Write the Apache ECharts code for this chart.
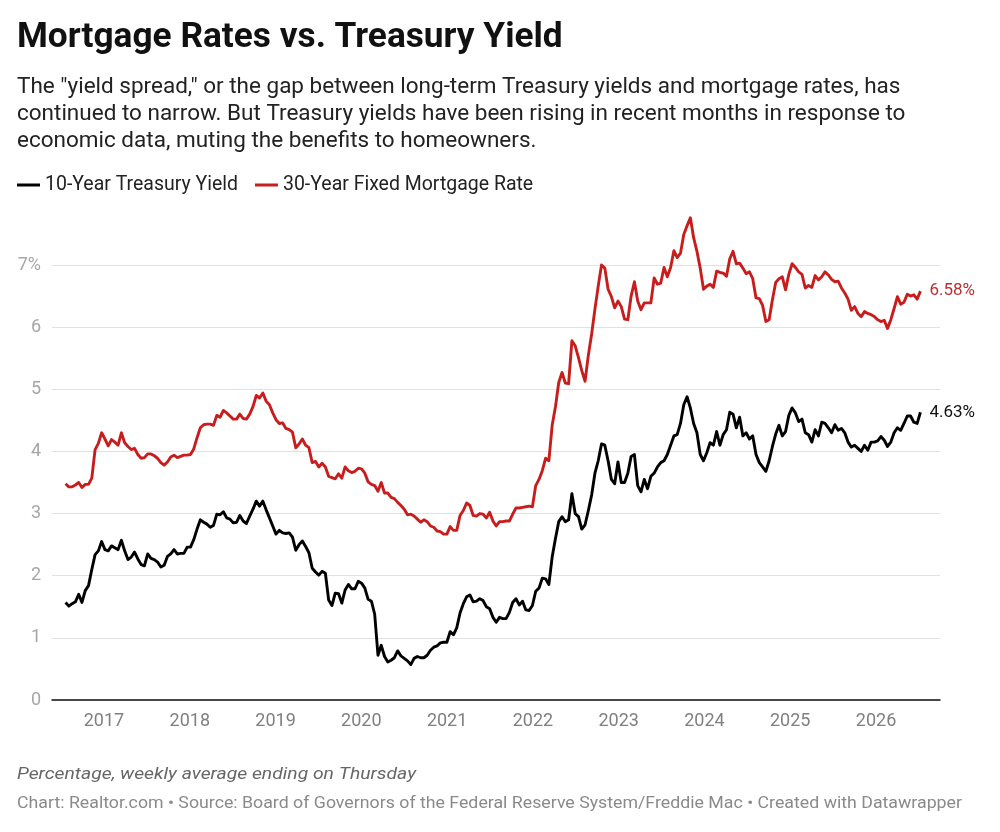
<!DOCTYPE html>
<html>
<head>
<meta charset="utf-8">
<script src="https://cdn.jsdelivr.net/npm/echarts@6/dist/echarts.min.js"></script>
<style>
  html, body { margin: 0; padding: 0; background: #fff; }
  #chart { width: 1000px; height: 832px; }
</style>
</head>
<body>
<div id="chart"></div>
<script>
// ---- Data: bi-weekly readings (Thursdays), starting 2016-07-21 ----
const startDate = '2016-07-21';
const stepDays = 14;

// 10-Year Treasury Yield (%)
const treasury2016 = [1.57,1.51,1.55,1.58,1.70,1.57,1.76,1.84,2.10,2.34,2.40,2.55];
const treasury2017 = [2.42,2.40,2.48,2.45,2.42,2.57,2.40,2.26,2.30,2.38,2.27,2.18,2.16,2.35,2.28,2.26,2.22,2.14,2.17,2.31,2.35,2.42,2.35,2.36,2.36,2.46];
const treasury2018 = [2.46,2.58,2.75,2.90,2.86,2.83,2.78,2.81,2.99,2.98,3.03,2.93,2.91,2.85,2.86,2.97,2.88,2.84,2.96,3.07,3.20,3.12,3.20,3.06,2.93,2.80];
const treasury2019 = [2.67,2.73,2.69,2.68,2.69,2.62,2.41,2.50,2.56,2.47,2.37,2.12,2.06,2.01,2.07,2.04,1.61,1.52,1.72,1.71,1.56,1.77,1.86,1.79,1.79,1.91];
const treasury2020 = [1.88,1.80,1.62,1.59,1.38,0.72,0.88,0.70,0.61,0.64,0.68,0.79,0.71,0.67,0.63,0.57,0.67,0.70,0.68,0.68,0.72,0.80,0.85,0.87,0.92,0.93,0.93];
const treasury2021 = [1.10,1.05,1.16,1.40,1.55,1.66,1.69,1.58,1.59,1.63,1.60,1.50,1.47,1.33,1.25,1.33,1.31,1.31,1.41,1.57,1.63,1.53,1.59,1.45,1.44,1.52];
const treasury2022 = [1.75,1.80,1.96,1.95,1.86,2.30,2.60,2.87,2.95,2.87,2.90,3.32,3.00,2.95,2.75,2.82,3.05,3.30,3.65,3.85,4.12,4.10,3.85,3.55,3.48,3.83];
const treasury2023 = [3.50,3.50,3.65,3.92,3.95,3.45,3.35,3.55,3.40,3.60,3.65,3.75,3.82,3.85,3.95,4.10,4.25,4.27,4.45,4.75,4.88,4.70,4.45,4.30,3.95,3.85];
const treasury2024 = [3.98,4.14,4.10,4.32,4.10,4.27,4.35,4.63,4.60,4.38,4.55,4.25,4.30,4.20,4.25,3.95,3.82,3.75,3.68,3.85,4.08,4.28,4.42,4.25,4.32,4.58];
const treasury2025 = [4.70,4.62,4.48,4.52,4.30,4.27,4.15,4.35,4.25,4.47,4.45,4.38,4.30,4.43,4.34,4.37,4.30,4.15,4.07,4.10,4.05,4.00,4.10,4.02,4.15,4.15];
const treasury2026 = [4.17,4.24,4.18,4.08,4.15,4.30,4.38,4.34,4.45,4.57,4.57,4.47,4.45,4.63];

// 30-Year Fixed Mortgage Rate (%)
const mortgage2016 = [3.48,3.43,3.43,3.46,3.50,3.42,3.47,3.47,3.57,4.03,4.13,4.30];
const mortgage2017 = [4.20,4.09,4.19,4.15,4.10,4.30,4.14,4.08,4.03,4.05,3.95,3.89,3.90,3.96,3.96,3.93,3.89,3.82,3.78,3.83,3.91,3.94,3.90,3.92,3.94,3.94];
const mortgage2018 = [3.95,4.04,4.22,4.38,4.43,4.44,4.44,4.42,4.58,4.55,4.66,4.62,4.57,4.52,4.52,4.60,4.53,4.52,4.60,4.72,4.90,4.86,4.94,4.81,4.75,4.62];
const mortgage2019 = [4.51,4.45,4.46,4.37,4.35,4.31,4.06,4.12,4.20,4.10,4.06,3.82,3.84,3.75,3.81,3.75,3.60,3.58,3.56,3.64,3.57,3.75,3.69,3.66,3.68,3.73];
const mortgage2020 = [3.72,3.65,3.51,3.47,3.45,3.36,3.50,3.33,3.33,3.26,3.24,3.18,3.13,3.07,2.98,2.99,2.96,2.91,2.86,2.90,2.87,2.80,2.78,2.72,2.71,2.67,2.67];
const mortgage2021 = [2.79,2.73,2.73,2.97,3.05,3.17,3.13,2.97,2.96,3.00,2.99,2.93,3.02,2.88,2.80,2.87,2.87,2.88,2.88,2.99,3.09,3.09,3.10,3.11,3.12,3.11];
const mortgage2022 = [3.45,3.55,3.69,3.89,3.85,4.42,4.72,5.11,5.27,5.10,5.09,5.78,5.70,5.51,5.30,5.13,5.55,5.89,6.29,6.66,7.00,6.95,6.61,6.49,6.31,6.42];
const mortgage2023 = [6.33,6.13,6.12,6.50,6.73,6.42,6.28,6.39,6.39,6.39,6.79,6.69,6.71,6.96,6.81,6.96,7.23,7.12,7.19,7.49,7.63,7.76,7.44,7.22,6.95,6.61];
const mortgage2024 = [6.66,6.69,6.64,6.90,6.88,6.87,6.82,7.10,7.22,7.02,7.03,6.95,6.86,6.89,6.78,6.47,6.46,6.35,6.09,6.12,6.44,6.72,6.78,6.81,6.60,6.85];
const mortgage2025 = [7.02,6.96,6.89,6.85,6.63,6.67,6.64,6.83,6.76,6.81,6.89,6.84,6.77,6.73,6.74,6.63,6.55,6.45,6.27,6.33,6.22,6.17,6.25,6.22,6.20,6.17];
const mortgage2026 = [6.12,6.09,6.11,5.98,6.12,6.30,6.49,6.37,6.40,6.53,6.50,6.52,6.45,6.58];

const yearTicks = [2017,2018,2019,2020,2021,2022,2023,2024,2025,2026];
const yTicks = [0,1,2,3,4,5,6,7];

const seriesNames = ['10-Year Treasury Yield', '30-Year Fixed Mortgage Rate'];

// ---- Build ----
const treasury = [].concat(treasury2016, treasury2017, treasury2018, treasury2019, treasury2020,
  treasury2021, treasury2022, treasury2023, treasury2024, treasury2025, treasury2026);
const mortgage = [].concat(mortgage2016, mortgage2017, mortgage2018, mortgage2019, mortgage2020,
  mortgage2021, mortgage2022, mortgage2023, mortgage2024, mortgage2025, mortgage2026);

function decYear(ms) {
  const d = new Date(ms);
  const y = d.getUTCFullYear();
  const a = Date.UTC(y, 0, 1), b = Date.UTC(y + 1, 0, 1);
  return y + (ms - a) / (b - a);
}
const t0 = Date.parse(startDate + 'T00:00:00Z');
const xs = treasury.map((_, i) => decYear(t0 + i * stepDays * 86400000));

const RED = '#c71e1d';
const FONT = 'Roboto';

// text fitting helpers
const ctx = document.createElement('canvas').getContext('2d');
function fitSize(text, weight, style, target) {
  ctx.font = `${style} ${weight} 100px ${FONT}`;
  return 100 * target / ctx.measureText(text).width;
}
function widthAt(text, weight, style, size) {
  ctx.font = `${style} ${weight} ${size}px ${FONT}`;
  return ctx.measureText(text).width;
}

const titleText = 'Mortgage Rates vs. Treasury Yield';
const sub1 = 'The "yield spread," or the gap between long-term Treasury yields and mortgage rates, has';
const sub2 = 'continued to narrow. But Treasury yields have been rising in recent months in response to';
const sub3 = 'economic data, muting the benefits to homeowners.';
const note = 'Percentage, weekly average ending on Thursday';
const source = 'Chart: Realtor.com • Source: Board of Governors of the Federal Reserve System/Freddie Mac • Created with Datawrapper';

const titleSize = Math.min(36, fitSize(titleText, 'bold', 'normal', 546));
const subSize = Math.min(23, fitSize(sub2, 'normal', 'normal', 889));
const legendSize = Math.min(20, fitSize(seriesNames[0], 'normal', 'normal', 193));
const noteSize = 17, srcSize = 17;
const noteScale = 399 / widthAt(note, 'normal', 'italic', noteSize);
const srcScale = 945 / widthAt(source, 'normal', 'normal', srcSize);

const XMIN = 2017 - 52 / 85.8;
const XMAX = 2026 + 64 / 85.8;

const chart = echarts.init(document.getElementById('chart'), null, { renderer: 'canvas' });
chart.setOption({
  animation: false,
  textStyle: { fontFamily: FONT },
  graphic: [
    { type: 'text', x: 17, y: 38, style: { text: titleText, font: `bold ${titleSize}px ${FONT}`, fill: '#111', textVerticalAlign: 'middle' } },
    { type: 'text', x: 17, y: 87, style: { text: sub1, font: `${subSize}px ${FONT}`, fill: '#222', textVerticalAlign: 'middle' } },
    { type: 'text', x: 17, y: 114, style: { text: sub2, font: `${subSize}px ${FONT}`, fill: '#222', textVerticalAlign: 'middle' } },
    { type: 'text', x: 17, y: 141, style: { text: sub3, font: `${subSize}px ${FONT}`, fill: '#222', textVerticalAlign: 'middle' } },
    { type: 'text', x: 17, y: 775, scaleX: noteScale, style: { text: note, font: `italic ${noteSize}px ${FONT}`, fill: '#666', textVerticalAlign: 'middle' } },
    { type: 'text', x: 17, y: 804, scaleX: srcScale, style: { text: source, font: `${srcSize}px ${FONT}`, fill: '#8a8a8a', textVerticalAlign: 'middle' } }
  ],
  legend: {
    left: 17, top: 174, padding: 0,
    itemWidth: 23, itemHeight: 3, itemGap: 17,
    icon: 'rect',
    textStyle: { fontSize: legendSize, color: '#222', lineHeight: 22, fontFamily: FONT },
    data: seriesNames
  },
  grid: { left: 52, right: 60, top: 265, bottom: 132, containLabel: false },
  xAxis: {
    type: 'value', min: XMIN, max: XMAX,
    axisLine: { show: true, lineStyle: { color: '#111', width: 1.5 } },
    axisTick: { show: false },
    splitLine: { show: false },
    axisLabel: {
      customValues: yearTicks,
      formatter: v => String(Math.round(v)),
      color: '#808080', fontSize: 18, margin: 12, fontFamily: FONT
    }
  },
  yAxis: {
    type: 'value', min: 0, max: 7, interval: 1,
    axisLine: { show: false }, axisTick: { show: false },
    splitLine: { lineStyle: { color: '#e1e1e1', width: 1 } },
    axisLabel: {
      formatter: v => (v === 7 ? '7%' : String(v)),
      color: '#a6a6a6', fontSize: 18, margin: 11, fontFamily: FONT
    }
  },
  series: [
    {
      name: seriesNames[0], type: 'line', showSymbol: false, symbol: 'none',
      clip: false, color: '#000',
      lineStyle: { color: '#000', width: 2.9, join: 'round' },
      emphasis: { disabled: true },
      data: treasury.map((v, i) => [xs[i], v]),
      endLabel: { show: true, distance: 9, color: '#111', fontSize: 17, fontFamily: FONT,
        formatter: p => p.value[1].toFixed(2) + '%' }
    },
    {
      name: seriesNames[1], type: 'line', showSymbol: false, symbol: 'none',
      clip: false, color: RED,
      lineStyle: { color: RED, width: 2.9, join: 'round' },
      emphasis: { disabled: true },
      data: mortgage.map((v, i) => [xs[i], v]),
      endLabel: { show: true, distance: 9, color: '#b8302e', fontSize: 17, fontFamily: FONT,
        formatter: p => p.value[1].toFixed(2) + '%' }
    }
  ]
});
</script>
</body>
</html>
